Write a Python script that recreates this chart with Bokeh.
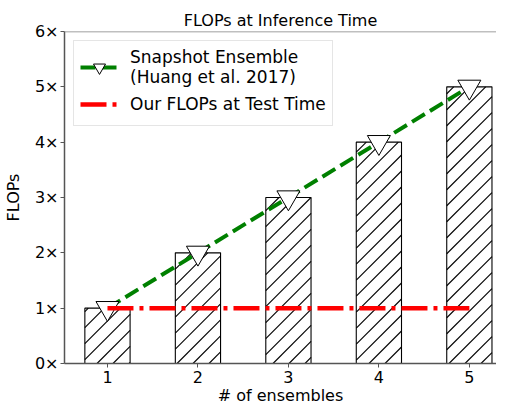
import numpy as np
from bokeh.plotting import figure
from bokeh.models import ColumnDataSource, FixedTicker, Range1d, Legend, LegendItem, Span
from bokeh.embed import file_html
from bokeh.resources import INLINE

ensembles = [1, 2, 3, 4, 5]
snapshot_flops = [1, 2, 3, 4, 5]
our_flops = [1, 1, 1, 1, 1]
y_ticks = [0, 1, 2, 3, 4, 5, 6]
y_tick_labels = ["0×", "1×", "2×", "3×", "4×", "5×", "6×"]

FONT = "DejaVu Sans"
BAR_W = 0.5
X0, X1, Y0, Y1 = 0.525, 5.3, 0, 6
FW, FH = 432, 332

p = figure(frame_width=FW, frame_height=FH, output_backend="svg", toolbar_location=None,
           x_range=Range1d(X0, X1), y_range=Range1d(Y0, Y1),
           min_border_left=58, min_border_right=0, min_border_top=31, min_border_bottom=35,
           title="FLOPs at Inference Time")
p.title.align = "center"
p.title.text_font = FONT
p.title.text_font_size = "16px"
p.title.text_font_style = "normal"
p.title.text_color = "black"
p.title.offset = 0
p.title.standoff = 4
p.grid.visible = False
p.outline_line_color = None

p.add_layout(Span(location=Y1, dimension="width", line_color="#808080", line_width=1.5))

# 45-degree hatch lines inside each bar, derived from the bar data
sx, sy = FW / (X1 - X0), FH / (Y1 - Y0)
step = 16.0
hx0, hy0, hx1, hy1 = [], [], [], []
for xc, top in zip(ensembles, snapshot_flops):
    u0, u1 = (xc - BAR_W / 2) * sx, (xc + BAR_W / 2) * sx
    v0, v1 = 0.0, top * sy
    c_lo, c_hi = v0 - u1, v1 - u0
    for c in np.arange(np.ceil(c_lo / step) * step, c_hi, step):
        ua, ub = max(u0, v0 - c), min(u1, v1 - c)
        if ub - ua > 0.5:
            hx0.append(ua / sx); hy0.append((ua + c) / sy)
            hx1.append(ub / sx); hy1.append((ub + c) / sy)

src = ColumnDataSource(dict(x=ensembles, snap=snapshot_flops, ours=our_flops))

p.vbar(x="x", top="snap", width=BAR_W, source=src, fill_color="white", line_color=None)
p.segment(hx0, hy0, hx1, hy1, line_color="black", line_width=1.1)
p.vbar(x="x", top="snap", width=BAR_W, source=src, fill_color=None, line_color="black", line_width=1.1)

g_line = p.line("x", "snap", source=src, line_color="green", line_width=4, line_dash="15 6")
g_mark = p.scatter("x", "snap", source=src, marker="inverted_triangle", size=23,
                   fill_color="white", line_color="black", line_width=1)
r_line = p.line("x", "ours", source=src, line_color="red", line_width=4.5, line_dash="26 6 4 6")

legend = Legend(items=[LegendItem(label="Snapshot Ensemble\n(Huang et al. 2017)", renderers=[g_line, g_mark]),
                       LegendItem(label="Our FLOPs at Test Time", renderers=[r_line])],
                location="top_left")
legend.label_text_font = FONT
legend.label_text_font_size = "17px"
legend.label_text_color = "black"
legend.label_standoff = 12
legend.glyph_width = 38
legend.glyph_height = 30
legend.margin = 9
legend.padding = 6
legend.spacing = 2
legend.border_line_color = "#cccccc"
legend.border_line_width = 1
legend.background_fill_alpha = 0.8
p.add_layout(legend)

p.xaxis.ticker = FixedTicker(ticks=ensembles)
p.yaxis.ticker = FixedTicker(ticks=y_ticks)
p.yaxis.major_label_overrides = {t: l for t, l in zip(y_ticks, y_tick_labels)}
for ax in (p.xaxis[0], p.yaxis[0]):
    ax.axis_line_color = "#555555"
    ax.axis_line_width = 1.5
    ax.major_tick_line_color = "#555555"
    ax.major_tick_out = 4
    ax.major_tick_in = 0
    ax.minor_tick_line_color = None
    ax.major_label_text_font = FONT
    ax.major_label_text_font_size = "16px"
    ax.major_label_text_color = "black"
    ax.axis_label_text_font = FONT
    ax.axis_label_text_font_size = "16px"
    ax.axis_label_text_font_style = "normal"
    ax.axis_label_text_color = "black"
p.xaxis[0].axis_label = "# of ensembles"
p.yaxis[0].axis_label = "FLOPs"
p.xaxis[0].axis_label_standoff = 0
p.yaxis[0].major_label_standoff = 2
p.yaxis[0].axis_label_standoff = 9
p.xaxis[0].major_label_standoff = 3

open("out.html", "w").write(file_html(p, INLINE))
